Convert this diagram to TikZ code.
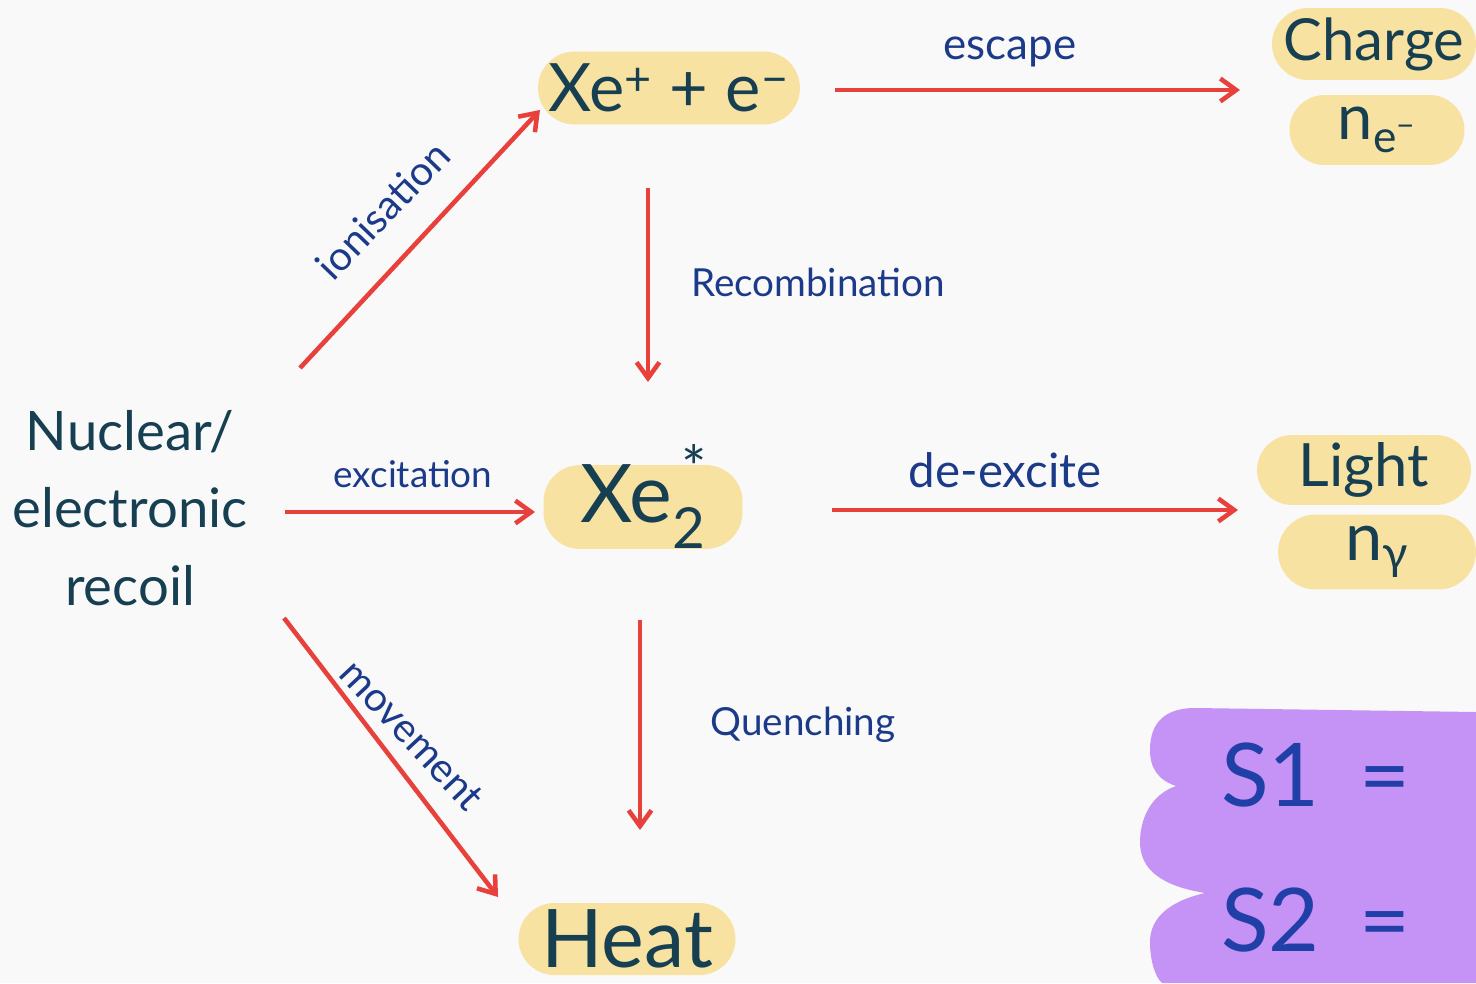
\documentclass[tikz,border=0pt]{standalone}
\usepackage{fontspec}
\setmainfont{Lato}
\usetikzlibrary{arrows.meta}
\definecolor{bg}{HTML}{F9F9F9}
\definecolor{pill}{HTML}{F8E2A2}
\definecolor{violet}{HTML}{C592F5}
\definecolor{ink}{HTML}{173F52}
\definecolor{lab}{HTML}{1C3A8A}
\definecolor{sig}{HTML}{2040A8}
\definecolor{arr}{HTML}{E8413C}
\tikzset{
  pillbox/.style={fill=pill, draw=none, text=ink, inner sep=0pt, anchor=center},
  flow/.style={draw=arr, line width=2.6pt, -{Straight Barb[length=9pt,width=13pt,line width=2.6pt]}},
  lbl/.style={text=lab, inner sep=0pt},
  fs/.style={font=\fontsize{#1}{#1}\selectfont}
}
\begin{document}
\begin{tikzpicture}[x=0.02cm,y=-0.02cm]
\fill[bg] (0,0) rectangle (1476,983);
\useasboundingbox (0,0) rectangle (1476,983);

% purple S1/S2 blob
\fill[violet] (1476,712) -- (1195,708) .. controls (1158,708) and (1150,730) .. (1150,750)
  .. controls (1150,768) and (1158,780) .. (1176,786)
  .. controls (1150,795) and (1140,820) .. (1140,842)
  .. controls (1140,870) and (1162,886) .. (1205,893)
  .. controls (1166,902) and (1150,920) .. (1150,942)
  .. controls (1150,962) and (1156,978) .. (1162,983) -- (1476,983) -- cycle;
\node[text=sig, fs=50pt, anchor=west] (s1) at (1215,775) {S1\hspace{0.45em}=};
\node[text=sig, fs=50pt, anchor=west] (s2) at (1215,920) {S2\hspace{0.45em}=};

% pills
\node[pillbox, minimum width=5.24cm, minimum height=1.46cm, rounded corners=0.73cm, fs=38pt] (xe) at (669,88) {Xe\textsuperscript{+} + e\textsuperscript{−}};
\node[pillbox, minimum width=4.08cm, minimum height=1.44cm, rounded corners=0.72cm, fs=33pt] (charge) at (1374,44) {Charge};
\node[pillbox, minimum width=3.5cm, minimum height=1.4cm, rounded corners=0.7cm, fs=36pt] (ne) at (1377,130) {n\textsubscript{e\textsuperscript{−}}};
\node[pillbox, minimum width=3.98cm, minimum height=1.46cm, rounded corners=0.73cm, fs=46pt] (xe2) at (643,507)
  {Xe\textsubscript{2}\rlap{\smash{\kern-0.3em\raisebox{0.42em}{\fontsize{34pt}{34pt}\selectfont *}}}};
\node[pillbox, minimum width=4.28cm, minimum height=1.4cm, rounded corners=0.7cm, fs=34pt] (light) at (1364,470) {Light};
\node[pillbox, minimum width=3.96cm, minimum height=1.5cm, rounded corners=0.75cm, fs=38pt] (ng) at (1377,552) {n\textsubscript{γ}};
\node[pillbox, minimum width=4.34cm, minimum height=1.44cm, rounded corners=0.72cm, fs=46pt] (heat) at (627,939) {Heat};

% source text
\node[text=ink, font=\fontsize{31pt}{44pt}\selectfont, align=center, inner sep=0pt] (recoil) at (130,508)
  {Nuclear/\\electronic\\recoil};

% connector end points
\coordinate (i1) at (300,368);  \coordinate (i2) at (540,110);
\coordinate (e1) at (835,90);   \coordinate (e2) at (1240,90);
\coordinate (r1) at (648,188);  \coordinate (r2) at (648,382);
\coordinate (x1) at (285,512);  \coordinate (x2) at (535,512);
\coordinate (d1) at (832,510);  \coordinate (d2) at (1238,510);
\coordinate (q1) at (640,620);  \coordinate (q2) at (640,830);
\coordinate (m1) at (284,618);  \coordinate (m2) at (498,897);

\draw[flow] (i1) -- (i2);
\draw[flow] (e1) -- (e2);
\draw[flow] (r1) -- (r2);
\draw[flow] (x1) -- (x2);
\draw[flow] (d1) -- (d2);
\draw[flow] (q1) -- (q2);
\draw[flow] (m1) -- (m2);

% labels
\node[lbl, fs=23pt, rotate=46] (lion) at (383,210) {ionisation};
\node[lbl, fs=25pt] (lesc) at (1010,52) {escape};
\node[lbl, fs=22pt] (lrec) at (818,282) {Recombination};
\node[lbl, fs=21pt] (lexc) at (413,474) {excitation};
\node[lbl, fs=27pt] (ldex) at (1005,470) {de-excite};
\node[lbl, fs=22pt] (lque) at (803,725) {Quenching};
\node[lbl, fs=23pt, rotate=-47] (lmov) at (412,735) {movement};
\end{tikzpicture}
\end{document}
